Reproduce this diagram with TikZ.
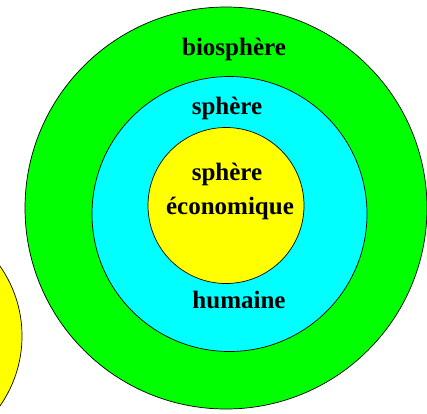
\documentclass[tikz,border=0pt]{standalone}
\usepackage{fontspec}
\setmainfont{Liberation Serif}
\usetikzlibrary{positioning}
\definecolor{BioGreen}{HTML}{00FF00}
\definecolor{HumCyan}{HTML}{00FFFF}
\definecolor{EcoYellow}{HTML}{FFFF00}
\tikzset{
  disc/.style={circle, draw=black, line width=0.7pt, inner sep=0pt},
  lbl/.style={inner sep=0pt, font=\fontsize{25}{27}\selectfont\bfseries},
}
\begin{document}
\begin{tikzpicture}[x=1pt,y=-1pt]
  \useasboundingbox (0,0) rectangle (427,413);
  % the three nested spheres, plus the one cut by the left edge
  \node[disc, fill=EcoYellow, minimum size=244pt] (side) at (-100,336) {};
  \node[disc, fill=BioGreen, minimum size=402pt] (bio) at (226,208) {};
  \node[disc, fill=HumCyan, minimum size=275pt] (hum) at (229.5,214) {};
  \node[disc, fill=EcoYellow, minimum size=156pt] (eco) at (226,205.5) {};
  % labels
  \node[lbl] (biotxt) at (234,49) {biosphère};
  \node[lbl] (humtop) at (227,108) {sphère};
  \node[lbl] (ecotop) at (227,174) {sphère};
  \node[lbl] (ecobot) at (230,208) {économique};
  \node[lbl] (humbot) at (239,300) {humaine};
\end{tikzpicture}
\end{document}
